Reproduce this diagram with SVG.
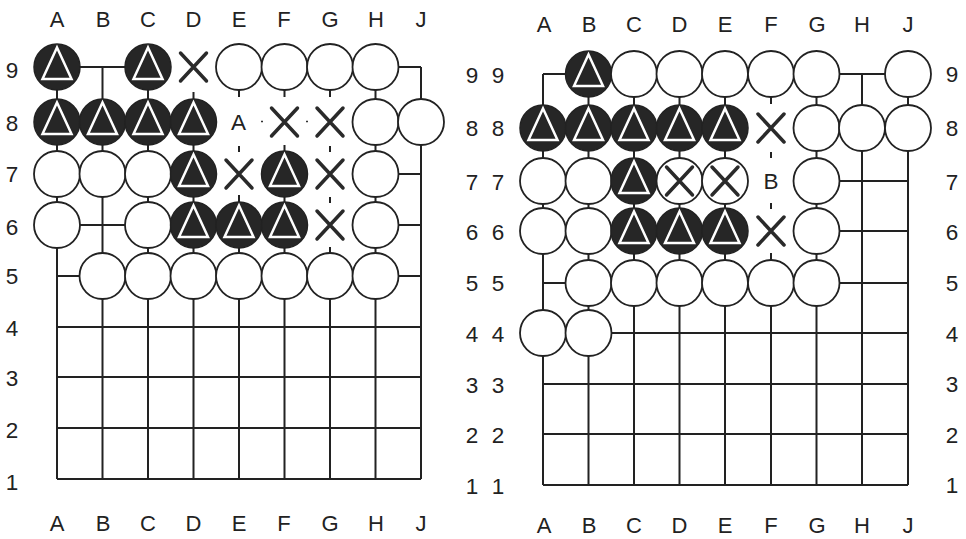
<svg xmlns="http://www.w3.org/2000/svg" xmlns:xlink="http://www.w3.org/1999/xlink" width="966" height="539" viewBox="0 0 966 539">
<style>
.ln{stroke:#222;stroke-width:2;fill:none}
.dot{stroke:#333;stroke-width:1.6;fill:none}
.w{fill:#fff;stroke:#222;stroke-width:1.8}
.b{fill:#262626;stroke:#222;stroke-width:1.5}
.tri{fill:#262626;stroke:#fff;stroke-width:2.5;stroke-linejoin:miter}
.x{stroke:#2a2a2a;stroke-width:3.5;stroke-linecap:round;fill:none}
.lbl{font-family:"Liberation Sans",Arial,Helvetica,sans-serif;font-size:22px;fill:#222;text-anchor:middle}
.num{font-family:"Liberation Sans",Arial,Helvetica,sans-serif;font-size:22.5px;fill:#222;text-anchor:middle}
</style>
<defs>
<g id="blk"><circle class="b" r="23"/><path class="tri" d="M0,-19.5 L14.5,12 L-14.5,12 Z"/></g>
<g id="wht"><circle class="w" r="23"/></g>
<g id="xm"><path class="x" d="M-13,-14 L13,14 M13,-14 L-13,14"/></g>
</defs>
<rect width="966" height="539" fill="#fff"/>

<g id="connectors">
<path class="ln" d="M57,67 H148 M375.5,67 H421 M375.5,174 H421 M57,225 H148 M375.5,225 H421 M57,276 H102.5 M375.5,276 H421 M57,327 H421 M57,377 H421 M57,428 H421 M57,479 H421
M57,67 V479 M102.5,67 V479 M148,67 V479 M193.5,122 V479 M193.5,92 V100 M239,89 V97 M239,146 V152 M239,195 V203 M239,225 V479 M284.5,89 V97 M284.5,145 V152 M284.5,174 V479 M330,89 V97 M330,146 V152 M330,197 V203 M330,247 V254 M330,276 V479 M375.5,67 V479 M421,67 V479"/>
<path class="dot" d="M261,121.5 h2 M306,121.5 h2"/>
<path class="ln" d="M543,74 H588.5 M816.5,74 H908 M816.5,181 H908 M816.5,231 H908 M543,283 H588.5 M816.5,283 H908 M588.5,333 H908 M543,384 H908 M543,434 H908 M543,485 H908
M543,74 V485 M588.5,74 V485 M634,74 V485 M679.5,74 V485 M725,74 V485 M771,97 V104 M771,152 V158 M771,203 V209 M771,253 V260 M771,283 V485 M816.5,74 V485 M862,74 V485 M908,74 V485"/>
</g>

<g id="left-board">
<g id="L-A9"><use xlink:href="#blk" href="#blk" x="57" y="67"/></g>
<g id="L-C9"><use xlink:href="#blk" href="#blk" x="148" y="67"/></g>
<g id="L-D9"><use xlink:href="#xm" href="#xm" x="193.5" y="67"/></g>
<g id="L-E9"><use xlink:href="#wht" href="#wht" x="239" y="67"/></g>
<g id="L-F9"><use xlink:href="#wht" href="#wht" x="284.5" y="67"/></g>
<g id="L-G9"><use xlink:href="#wht" href="#wht" x="330" y="67"/></g>
<g id="L-H9"><use xlink:href="#wht" href="#wht" x="375.5" y="67"/></g>

<g id="L-A8"><use xlink:href="#blk" href="#blk" x="57" y="122"/></g>
<g id="L-B8"><use xlink:href="#blk" href="#blk" x="102.5" y="122"/></g>
<g id="L-C8"><use xlink:href="#blk" href="#blk" x="148" y="122"/></g>
<g id="L-D8"><use xlink:href="#blk" href="#blk" x="193.5" y="122"/></g>
<g id="L-E8"><text class="num" x="238.5" y="130">A</text></g>
<g id="L-F8"><use xlink:href="#xm" href="#xm" x="284.5" y="122"/></g>
<g id="L-G8"><use xlink:href="#xm" href="#xm" x="330" y="122"/></g>
<g id="L-H8"><use xlink:href="#wht" href="#wht" x="375.5" y="122"/></g>
<g id="L-J8"><use xlink:href="#wht" href="#wht" x="421" y="122"/></g>

<g id="L-A7"><use xlink:href="#wht" href="#wht" x="57" y="174"/></g>
<g id="L-B7"><use xlink:href="#wht" href="#wht" x="102.5" y="174"/></g>
<g id="L-C7"><use xlink:href="#wht" href="#wht" x="148" y="174"/></g>
<g id="L-D7"><use xlink:href="#blk" href="#blk" x="193.5" y="174"/></g>
<g id="L-E7"><use xlink:href="#xm" href="#xm" x="239" y="174"/></g>
<g id="L-F7"><use xlink:href="#blk" href="#blk" x="284.5" y="174"/></g>
<g id="L-G7"><use xlink:href="#xm" href="#xm" x="330" y="174"/></g>
<g id="L-H7"><use xlink:href="#wht" href="#wht" x="375.5" y="174"/></g>

<g id="L-A6"><use xlink:href="#wht" href="#wht" x="57" y="225"/></g>
<g id="L-C6"><use xlink:href="#wht" href="#wht" x="148" y="225"/></g>
<g id="L-D6"><use xlink:href="#blk" href="#blk" x="193.5" y="225"/></g>
<g id="L-E6"><use xlink:href="#blk" href="#blk" x="239" y="225"/></g>
<g id="L-F6"><use xlink:href="#blk" href="#blk" x="284.5" y="225"/></g>
<g id="L-G6"><use xlink:href="#xm" href="#xm" x="330" y="225"/></g>
<g id="L-H6"><use xlink:href="#wht" href="#wht" x="375.5" y="225"/></g>

<g id="L-B5"><use xlink:href="#wht" href="#wht" x="102.5" y="276"/></g>
<g id="L-C5"><use xlink:href="#wht" href="#wht" x="148" y="276"/></g>
<g id="L-D5"><use xlink:href="#wht" href="#wht" x="193.5" y="276"/></g>
<g id="L-E5"><use xlink:href="#wht" href="#wht" x="239" y="276"/></g>
<g id="L-F5"><use xlink:href="#wht" href="#wht" x="284.5" y="276"/></g>
<g id="L-G5"><use xlink:href="#wht" href="#wht" x="330" y="276"/></g>
<g id="L-H5"><use xlink:href="#wht" href="#wht" x="375.5" y="276"/></g>
</g>

<g id="right-board">
<g id="R-B9"><use xlink:href="#blk" href="#blk" x="588.5" y="74"/></g>
<g id="R-C9"><use xlink:href="#wht" href="#wht" x="634" y="74"/></g>
<g id="R-D9"><use xlink:href="#wht" href="#wht" x="679.5" y="74"/></g>
<g id="R-E9"><use xlink:href="#wht" href="#wht" x="725" y="74"/></g>
<g id="R-F9"><use xlink:href="#wht" href="#wht" x="771" y="74"/></g>
<g id="R-G9"><use xlink:href="#wht" href="#wht" x="816.5" y="74"/></g>
<g id="R-J9"><use xlink:href="#wht" href="#wht" x="908" y="74"/></g>

<g id="R-A8"><use xlink:href="#blk" href="#blk" x="543" y="128"/></g>
<g id="R-B8"><use xlink:href="#blk" href="#blk" x="588.5" y="128"/></g>
<g id="R-C8"><use xlink:href="#blk" href="#blk" x="634" y="128"/></g>
<g id="R-D8"><use xlink:href="#blk" href="#blk" x="679.5" y="128"/></g>
<g id="R-E8"><use xlink:href="#blk" href="#blk" x="725" y="128"/></g>
<g id="R-F8"><use xlink:href="#xm" href="#xm" x="771" y="128"/></g>
<g id="R-G8"><use xlink:href="#wht" href="#wht" x="816.5" y="128"/></g>
<g id="R-H8"><use xlink:href="#wht" href="#wht" x="862" y="128"/></g>
<g id="R-J8"><use xlink:href="#wht" href="#wht" x="908" y="128"/></g>

<g id="R-A7"><use xlink:href="#wht" href="#wht" x="543" y="181"/></g>
<g id="R-B7"><use xlink:href="#wht" href="#wht" x="588.5" y="181"/></g>
<g id="R-C7"><use xlink:href="#blk" href="#blk" x="634" y="181"/></g>
<g id="R-D7"><use xlink:href="#wht" href="#wht" x="679.5" y="181"/><use xlink:href="#xm" href="#xm" x="679.5" y="181"/></g>
<g id="R-E7"><use xlink:href="#wht" href="#wht" x="725" y="181"/><use xlink:href="#xm" href="#xm" x="725" y="181"/></g>
<g id="R-F7"><text class="num" x="771" y="189">B</text></g>
<g id="R-G7"><use xlink:href="#wht" href="#wht" x="816.5" y="181"/></g>

<g id="R-A6"><use xlink:href="#wht" href="#wht" x="543" y="231"/></g>
<g id="R-B6"><use xlink:href="#wht" href="#wht" x="588.5" y="231"/></g>
<g id="R-C6"><use xlink:href="#blk" href="#blk" x="634" y="231"/></g>
<g id="R-D6"><use xlink:href="#blk" href="#blk" x="679.5" y="231"/></g>
<g id="R-E6"><use xlink:href="#blk" href="#blk" x="725" y="231"/></g>
<g id="R-F6"><use xlink:href="#xm" href="#xm" x="771" y="231"/></g>
<g id="R-G6"><use xlink:href="#wht" href="#wht" x="816.5" y="231"/></g>

<g id="R-B5"><use xlink:href="#wht" href="#wht" x="588.5" y="283"/></g>
<g id="R-C5"><use xlink:href="#wht" href="#wht" x="634" y="283"/></g>
<g id="R-D5"><use xlink:href="#wht" href="#wht" x="679.5" y="283"/></g>
<g id="R-E5"><use xlink:href="#wht" href="#wht" x="725" y="283"/></g>
<g id="R-F5"><use xlink:href="#wht" href="#wht" x="771" y="283"/></g>
<g id="R-G5"><use xlink:href="#wht" href="#wht" x="816.5" y="283"/></g>

<g id="R-A4"><use xlink:href="#wht" href="#wht" x="543" y="333"/></g>
<g id="R-B4"><use xlink:href="#wht" href="#wht" x="588.5" y="333"/></g>
</g>

<g id="labels">
<g class="lbl">
<text x="57" y="26.5">A</text><text x="103" y="26.5">B</text><text x="148" y="26.5">C</text><text x="193.5" y="26.5">D</text><text x="239" y="26.5">E</text><text x="284" y="26.5">F</text><text x="330" y="26.5">G</text><text x="376" y="26.5">H</text><text x="421" y="26.5">J</text>
<text x="57" y="531">A</text><text x="103" y="531">B</text><text x="148" y="531">C</text><text x="193.5" y="531">D</text><text x="239" y="531">E</text><text x="284" y="531">F</text><text x="330" y="531">G</text><text x="376" y="531">H</text><text x="421" y="531">J</text>
<text x="544" y="31.5">A</text><text x="589" y="31.5">B</text><text x="634" y="31.5">C</text><text x="679.5" y="31.5">D</text><text x="725" y="31.5">E</text><text x="771" y="31.5">F</text><text x="817" y="31.5">G</text><text x="862" y="31.5">H</text><text x="908" y="31.5">J</text>
<text x="544" y="533">A</text><text x="589" y="533">B</text><text x="634" y="533">C</text><text x="679.5" y="533">D</text><text x="725" y="533">E</text><text x="771" y="533">F</text><text x="817" y="533">G</text><text x="862" y="533">H</text><text x="908" y="533">J</text>
</g>
<g class="num">
<text x="12" y="77.5">9</text><text x="12" y="131">8</text><text x="12" y="182">7</text><text x="12" y="235">6</text><text x="12" y="284">5</text><text x="12" y="336">4</text><text x="12" y="386">3</text><text x="12" y="438">2</text><text x="12" y="489.5">1</text>
<text x="472" y="83">9</text><text x="472" y="136">8</text><text x="472" y="189.5">7</text><text x="472" y="240">6</text><text x="472" y="291">5</text><text x="472" y="342">4</text><text x="472" y="392.5">3</text><text x="472" y="443">2</text><text x="472" y="494">1</text>
<text x="498" y="83">9</text><text x="498" y="136">8</text><text x="498" y="189.5">7</text><text x="498" y="240">6</text><text x="498" y="291">5</text><text x="498" y="342">4</text><text x="498" y="392.5">3</text><text x="498" y="443">2</text><text x="498" y="494">1</text>
<text x="952" y="82">9</text><text x="952" y="136">8</text><text x="952" y="190">7</text><text x="952" y="240">6</text><text x="952" y="291">5</text><text x="952" y="342">4</text><text x="952" y="392">3</text><text x="952" y="443">2</text><text x="952" y="493">1</text>
</g>
</g>
</svg>
